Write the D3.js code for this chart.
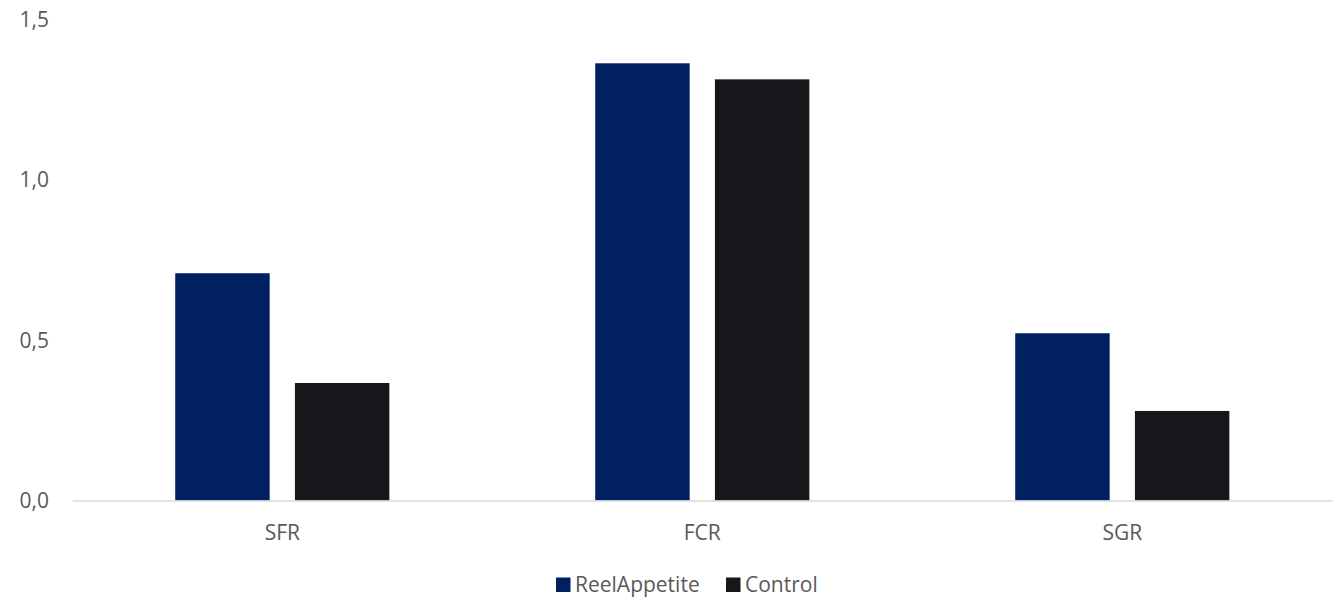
<!DOCTYPE html>
<html>
<head>
<meta charset="utf-8">
<script src="https://cdn.jsdelivr.net/npm/d3@7"></script>
<style>
  html, body { margin: 0; padding: 0; background: #fff; }
  svg { display: block; }
  text { font-family: "Open Sans", "Noto Sans", sans-serif; fill: #595959; }
</style>
</head>
<body>
<svg id="chart" width="1337" height="598"></svg>
<script>
// Feed metrics per group
const categories = ["SFR", "FCR", "SGR"];
const seriesNames = ["ReelAppetite", "Control"];
const reelAppetite = [0.708, 1.362, 0.521];
const control = [0.366, 1.312, 0.279];
const yTicks = [0, 0.5, 1.0, 1.5];
const colors = ["#002060", "#15171a"];

const seriesValues = [reelAppetite, control];
const rows = categories.map((c, i) => ({
  category: c,
  values: seriesNames.map((s, j) => ({ series: s, value: seriesValues[j][i] }))
}));

const svg = d3.select("#chart");
const plot = { left: 72.3, right: 1332.3, top: 19, bottom: 500.5 };

const x0 = d3.scaleBand().domain(categories).range([plot.left, plot.right]).padding(0);
const x1 = d3.scaleBand().domain(seriesNames).range([0, x0.bandwidth()])
  .paddingInner(0.211).paddingOuter(0.86);
const y = d3.scaleLinear().domain([0, 1.5]).range([plot.bottom, plot.top]);
const color = d3.scaleOrdinal().domain(seriesNames).range(colors);

const fmt = v => d3.format(".1f")(v).replace(".", ",");

// Y tick labels
svg.append("g")
  .selectAll("text")
  .data(yTicks)
  .join("text")
  .attr("x", 49)
  .attr("y", d => y(d) + 7.5)
  .attr("text-anchor", "end")
  .style("font-size", "21px")
  .text(fmt);

// Bars
svg.append("g")
  .selectAll("g")
  .data(rows)
  .join("g")
  .attr("transform", d => `translate(${x0(d.category)},0)`)
  .selectAll("rect")
  .data(d => d.values)
  .join("rect")
  .attr("x", d => x1(d.series))
  .attr("y", d => y(d.value))
  .attr("width", x1.bandwidth())
  .attr("height", d => y(0) - y(d.value))
  .attr("fill", d => color(d.series));

// Baseline axis
const xAxis = d3.axisBottom(x0).tickSize(0).tickPadding(0);
const gx = svg.append("g").attr("transform", `translate(0,${plot.bottom})`).call(xAxis);
gx.select(".domain").attr("stroke", "#d9d9d9").attr("stroke-width", 1.5);
gx.selectAll(".tick text")
  .attr("dy", null)
  .attr("y", 39)
  .attr("fill", "#595959")
  .style("font-size", "21px")
  .style("font-family", "'Open Sans', 'Noto Sans', sans-serif");

// Legend
const legendItems = [
  { name: "ReelAppetite", x: 556 },
  { name: "Control", x: 726 }
];
const lg = svg.append("g");
lg.selectAll("rect")
  .data(legendItems)
  .join("rect")
  .attr("x", d => d.x)
  .attr("y", 577.5)
  .attr("width", 14.5)
  .attr("height", 14.5)
  .attr("fill", d => color(d.name));
lg.selectAll("text")
  .data(legendItems)
  .join("text")
  .attr("x", d => d.x + 19)
  .attr("y", 592)
  .style("font-size", "21px")
  .text(d => d.name);
</script>
</body>
</html>
